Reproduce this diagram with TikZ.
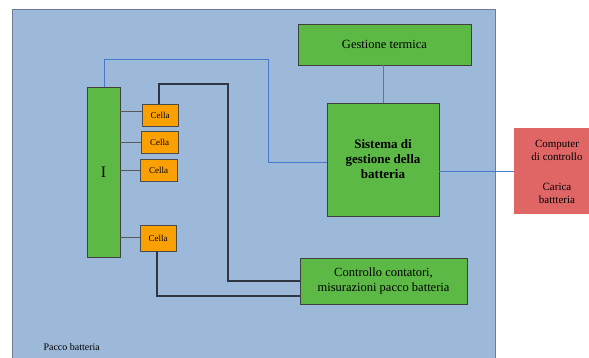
\documentclass[tikz,border=0pt]{standalone}
\usepackage{fontspec}
\setmainfont{Liberation Serif}
\definecolor{packblue}{HTML}{9DB9D9}
\definecolor{packedge}{HTML}{6E7E90}
\definecolor{boxgreen}{HTML}{5CB946}
\definecolor{cellorange}{HTML}{FAA000}
\definecolor{hostred}{HTML}{E06666}
\definecolor{linkblue}{HTML}{4A78C8}
\definecolor{wiredark}{HTML}{2E3644}
\begin{document}
\begin{tikzpicture}[x=1pt,y=-1pt,
  greenbox/.style={draw=black!75,line width=0.8pt,fill=boxgreen,inner sep=0pt},
  cellbox/.style={draw=black!70,line width=0.8pt,fill=cellorange,inner sep=0pt,font=\fontsize{9}{10}\selectfont},
  link/.style={linkblue,line width=0.7pt},
  wire/.style={wiredark,line width=1.1pt},
  tap/.style={black!65,line width=1pt}]
\useasboundingbox (0,0) rectangle (589,358);
% battery pack enclosure
\fill[white] (0,0) rectangle (589,358);
\draw[packedge,fill=packblue,line width=0.8pt] (12,362) -- (12,9.5) -- (495,9.5) -- (495,362);
\node[anchor=base west,font=\fontsize{10}{12}\selectfont] (pack) at (40,350) {Pacco batteria};
% boxes
\node[greenbox,minimum width=33pt,minimum height=170pt,font=\fontsize{16}{17}\selectfont] (inv) at (103.5,172) {I};
\node[greenbox,minimum width=173pt,minimum height=41pt,font=\fontsize{12.5}{15}\selectfont] (therm) at (384.5,44.5) {Gestione termica};
\node[greenbox,minimum width=112pt,minimum height=113pt,align=center,font=\bfseries\fontsize{13}{15}\selectfont] (bms) at (383,159.5) {Sistema di\\gestione della\\batteria};
\node[greenbox,minimum width=167pt,minimum height=46pt,align=center,font=\fontsize{12.5}{15}\selectfont] (ctrl) at (383.5,281) {Controllo contatori,\\misurazioni pacco batteria};
\node[fill=hostred,minimum width=78pt,minimum height=86pt,inner sep=0pt] (host) at (553,171) {};
\node[align=center,font=\fontsize{11}{13}\selectfont] (hostA) at (557,150.5) {Computer\\di controllo};
\node[align=center,font=\fontsize{11}{13}\selectfont] (hostB) at (557,193.5) {Carica\\battteria};
% cells
\node[cellbox,minimum width=36pt,minimum height=22pt] (c1) at (160,115) {Cella};
\node[cellbox,minimum width=37pt,minimum height=22pt] (c2) at (159.5,142) {Cella};
\node[cellbox,minimum width=37pt,minimum height=22pt] (c3) at (158.5,170) {Cella};
\node[cellbox,minimum width=36pt,minimum height=26pt] (c4) at (158,238) {Cella};
% taps from the bar to the cells
\draw[tap] (inv.east |- 0,112) -- (c1.west |- 0,112);
\draw[tap] (inv.east |- 0,143) -- (c2.west |- 0,143);
\draw[tap] (inv.east |- 0,171) -- (c3.west |- 0,171);
\draw[tap] (inv.east |- 0,238) -- (c4.west |- 0,238);
% communication links
\draw[link] (inv.north -| 104,0) -- (104,59) -- (268,59) -- (268,162.5) -- (bms.west |- 0,162.5);
\draw[link] (therm.south -| 383,0) -- (bms.north -| 383,0);
\draw[link] (bms.east |- 0,171) -- (host.west |- 0,171);
% sense wires to the contactor controller
\draw[wire] (c1.north -| 159,0) -- (159,84) -- (228,84) -- (228,281) -- (ctrl.west |- 0,281);
\draw[wire] (c4.south -| 157,0) -- (157,296) -- (ctrl.west |- 0,296);
\end{tikzpicture}
\end{document}
